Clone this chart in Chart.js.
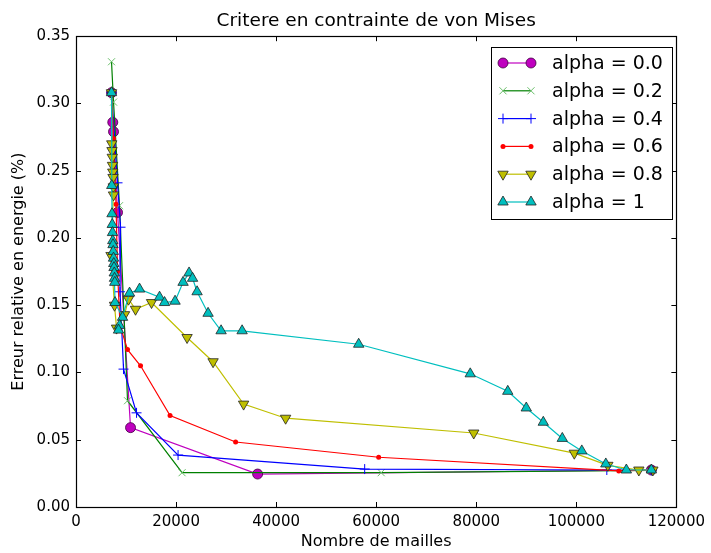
<!DOCTYPE html>
<html>
<head>
<meta charset="utf-8">
<script src="https://cdn.jsdelivr.net/npm/chart.js@4.4.1/dist/chart.umd.min.js"></script>
<style>
html,body{margin:0;padding:0;background:#fff;}
#wrap{width:711px;height:553px;}
</style>
</head>
<body>
<div id="wrap"><canvas id="c" width="711" height="553"></canvas></div>
<script>
const chartTitle = "Critere en contrainte de von Mises";
const xTitle = "Nombre de mailles";
const yTitle = "Erreur relative en energie (%)";
const xTicks = [0, 20000, 40000, 60000, 80000, 100000, 120000];
const yTicks = [0.00, 0.05, 0.10, 0.15, 0.20, 0.25, 0.30, 0.35];
const seriesNames = ["alpha = 0.0", "alpha = 0.2", "alpha = 0.4", "alpha = 0.6", "alpha = 0.8", "alpha = 1"];

const a00_x = [7100, 7350, 7500, 8300, 10900, 36300, 115000];
const a00_y = [0.308, 0.286, 0.279, 0.219, 0.059, 0.0245, 0.0275];

const a02_x = [7100, 7500, 8700, 10300, 21200, 61000, 115000];
const a02_y = [0.331, 0.301, 0.224, 0.079, 0.0255, 0.0255, 0.0272];

const a04_x = [7100, 8300, 8900, 8800, 9500, 12100, 20400, 57700, 106100, 115000];
const a04_y = [0.308, 0.241, 0.208, 0.160, 0.1025, 0.070, 0.0386, 0.0282, 0.0275, 0.0272];

const a06_x = [7100, 7500, 8000, 8300, 8800, 10300, 12900, 18800, 31900, 60500, 108500, 115000];
const a06_y = [0.308, 0.274, 0.225, 0.175, 0.135, 0.117, 0.105, 0.068, 0.0483, 0.037, 0.0268, 0.0275];

const a08_x = [7100, 7150, 7200, 7250, 7300, 7350, 7400, 7450, 7500, 7000, 7700, 8100, 9700, 10500, 11900, 15100, 22200, 27400, 33500, 41900, 79500, 99600, 106300, 112500, 115300];
const a08_y = [0.308, 0.270, 0.265, 0.260, 0.254, 0.249, 0.245, 0.238, 0.232, 0.187, 0.150, 0.133, 0.143, 0.1545, 0.147, 0.152, 0.126, 0.108, 0.0765, 0.066, 0.055, 0.040, 0.031, 0.0275, 0.0275];

const a10_x = [7100, 7150, 7200, 7250, 7300, 7350, 7400, 7450, 7500, 7550, 7600, 7650, 7700, 7750, 7800, 9300, 8700, 8500, 10700, 12700, 16700, 17700, 19800, 21400, 22600, 23300, 24200, 26400, 29000, 33200, 56500, 78800, 86300, 90000, 93400, 97200, 101100, 105900, 110000, 115000];
const a10_y = [0.308, 0.239, 0.218, 0.210, 0.204, 0.198, 0.195, 0.190, 0.185, 0.181, 0.178, 0.174, 0.170, 0.167, 0.152, 0.141, 0.135, 0.1315, 0.159, 0.162, 0.156, 0.152, 0.153, 0.167, 0.174, 0.170, 0.160, 0.144, 0.131, 0.131, 0.121, 0.099, 0.086, 0.0736, 0.063, 0.051, 0.0417, 0.032, 0.0275, 0.0275];

function pts(xs, ys){ return xs.map((x,i)=>({x:x, y:ys[i]})); }

const styles = [
  {line:'#bf00bf', fill:'#bf00bf', edge:'#400040', pointStyle:'circle', radius:5, rot:0, bw:0.8},
  {line:'#008000', fill:'#6cbf6c', edge:'#6cbf6c', pointStyle:'crossRot', radius:5, rot:0, bw:1},
  {line:'#0000ff', fill:'#0000ff', edge:'#0000ff', pointStyle:'cross', radius:5, rot:0, bw:1},
  {line:'#ff0000', fill:'#ff0000', edge:'#ff0000', pointStyle:'circle', radius:2.5, rot:0, bw:0},
  {line:'#bfbf00', fill:'#bfbf00', edge:'#222222', pointStyle:'triangle', radius:6, rot:180, bw:0.8},
  {line:'#00bfbf', fill:'#00bfbf', edge:'#222222', pointStyle:'triangle', radius:6, rot:0, bw:0.8}
];
const allX = [a00_x, a02_x, a04_x, a06_x, a08_x, a10_x];
const allY = [a00_y, a02_y, a04_y, a06_y, a08_y, a10_y];

const datasets = seriesNames.map((name,i)=>({
  label: name,
  data: pts(allX[i], allY[i]),
  showLine: true,
  borderColor: styles[i].line,
  borderWidth: 1.2,
  backgroundColor: styles[i].fill,
  pointStyle: styles[i].pointStyle,
  pointRadius: styles[i].radius,
  pointRotation: styles[i].rot,
  pointBorderColor: styles[i].edge,
  pointBorderWidth: styles[i].bw,
  pointBackgroundColor: styles[i].fill,
  tension: 0,
  order: 5 - i
}));

const frameTicks = {
  id: 'frameTicks',
  afterDatasetsDraw(chart){
    const ctx = chart.ctx, a = chart.chartArea;
    const xs = chart.scales.x, ys = chart.scales.y;
    ctx.save();
    ctx.strokeStyle = '#000';
    ctx.lineWidth = 1;
    ctx.beginPath();
    xTicks.forEach(v=>{
      const px = Math.round(xs.getPixelForValue(v)) + 0.5;
      ctx.moveTo(px, a.bottom); ctx.lineTo(px, a.bottom - 5);
      ctx.moveTo(px, a.top); ctx.lineTo(px, a.top + 5);
    });
    yTicks.forEach(v=>{
      const py = Math.round(ys.getPixelForValue(v)) + 0.5;
      ctx.moveTo(a.left, py); ctx.lineTo(a.left + 5, py);
      ctx.moveTo(a.right, py); ctx.lineTo(a.right - 5, py);
    });
    ctx.stroke();
    ctx.lineWidth = 1.2;
    ctx.strokeRect(Math.round(a.left)+0.5, Math.round(a.top)+0.5, Math.round(a.right - a.left), Math.round(a.bottom - a.top));

    // legend
    const bx = 491, by = 47, bw = 181, bh = 172;
    ctx.fillStyle = '#fff';
    ctx.fillRect(bx, by, bw, bh);
    ctx.lineWidth = 1;
    ctx.strokeStyle = '#000';
    ctx.strokeRect(bx+0.5, by+0.5, bw, bh);
    ctx.font = '19px "DejaVu Sans"';
    ctx.textBaseline = 'middle';
    seriesNames.forEach((name,i)=>{
      const y = 63 + i*27.8;
      const s = styles[i];
      ctx.strokeStyle = s.line;
      ctx.lineWidth = 1.2;
      ctx.beginPath(); ctx.moveTo(503, y); ctx.lineTo(531, y); ctx.stroke();
      [503, 531].forEach(px=>{
        ctx.fillStyle = s.fill;
        ctx.strokeStyle = s.edge;
        ctx.lineWidth = s.bw || 1;
        Chart.helpers.drawPoint(ctx, {pointStyle: s.pointStyle, radius: s.radius, rotation: s.rot, borderWidth: s.bw}, px, y);
      });
      ctx.fillStyle = '#000';
      ctx.fillText(name, 552, y + 1);
    });
    ctx.restore();
  }
};

new Chart(document.getElementById('c'), {
  type: 'scatter',
  data: { datasets },
  options: {
    responsive: false,
    animation: false,
    events: [],
    layout: { padding: { left: 0, right: 30, top: 0, bottom: 0 } },
    plugins: {
      legend: { display: false },
      tooltip: { enabled: false },
      title: {
        display: true, text: chartTitle, color: '#000', fullSize: false,
        font: { family: 'DejaVu Sans', size: 18.5, weight: 'normal' },
        padding: { top: 10, bottom: 4 }
      }
    },
    scales: {
      x: {
        type: 'linear', min: 0, max: 120000,
        afterBuildTicks(s){ s.ticks = xTicks.map(v=>({value:v})); },
        afterFit(s){ s.height = 46; },
        grid: { display: false, drawTicks: false },
        border: { display: true, color: '#000' },
        ticks: { color: '#000', padding: 6, maxRotation: 0, font: { family: 'DejaVu Sans', size: 15 }, callback: v => String(v) },
        title: { display: true, text: xTitle, color: '#000', padding: { top: 0, bottom: 2 }, font: { family: 'DejaVu Sans', size: 16 } }
      },
      y: {
        type: 'linear', min: 0, max: 0.35,
        afterBuildTicks(s){ s.ticks = yTicks.map(v=>({value:v})); },
        afterFit(s){ s.width = 76; },
        grid: { display: false, drawTicks: false },
        border: { display: true, color: '#000' },
        ticks: { color: '#000', padding: 6, font: { family: 'DejaVu Sans', size: 15 }, callback: v => Number(v).toFixed(2) },
        title: { display: true, text: yTitle, color: '#000', padding: { top: 9, bottom: 0 }, font: { family: 'DejaVu Sans', size: 16 } }
      }
    }
  },
  plugins: [frameTicks]
});
</script>
</body>
</html>
